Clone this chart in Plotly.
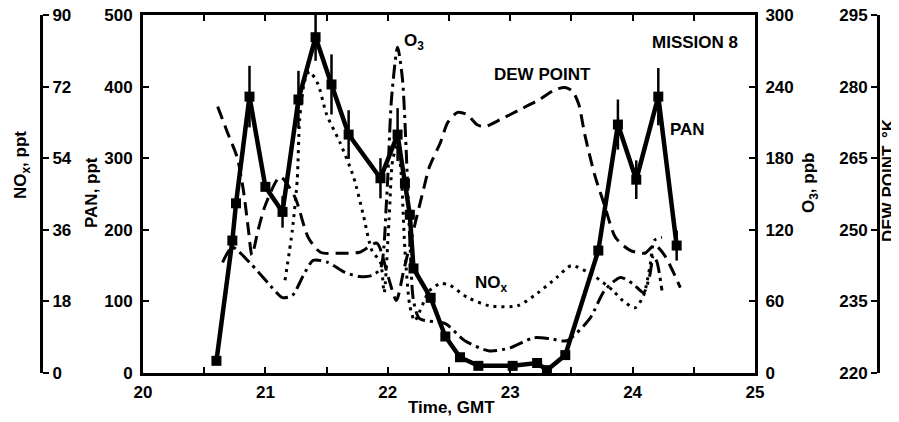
import plotly.graph_objects as go

# ---------------- data ----------------
pan_t = [20.60, 20.73, 20.76, 20.87, 21.00, 21.14, 21.27, 21.41, 21.54, 21.68, 21.94, 22.08, 22.14,
         22.18, 22.21, 22.35, 22.47, 22.59, 22.74, 23.02, 23.22, 23.30, 23.45, 23.72, 23.88, 24.03,
         24.21, 24.36]
pan_v = [17, 185, 237, 386, 260, 225, 382, 469, 403, 333, 272, 333, 265,
         221, 146, 105, 51, 22, 10, 10, 14, 4, 25, 171, 347, 270,
         386, 178]
pan_err = [0, 0, 0, 43, 0, 22, 40, 33, 42, 34, 28, 37, 0,
           0, 0, 0, 0, 0, 0, 0, 0, 0, 0, 0, 35, 27,
           40, 21]

o3_t = [20.65, 20.73, 20.87, 21.04, 21.14, 21.22, 21.31, 21.39, 21.51, 21.65, 21.77, 21.87, 21.94,
        21.99, 22.03, 22.08, 22.12, 22.15, 22.18, 22.21, 22.26, 22.47, 22.63, 22.83, 23.00, 23.19,
        23.33, 23.46, 23.65, 23.77, 23.90, 24.00, 24.09, 24.14, 24.17, 24.20, 24.24]
o3_v = [92.7, 105.3, 92.7, 73.3, 63.2, 64.9, 81.7, 94.4, 92.7, 84.3, 80.9, 81.7, 87.6,
        144.9, 229.2, 273.0, 246.1, 187.1, 111.2, 60.7, 45.5, 41.3, 27.0, 18.5, 21.1, 29.5,
        28.7, 27.0, 45.5, 69.1, 80.1, 75.0, 67.4, 81.7, 98.6, 92.7, 69.1]

nox_t = [21.16, 21.22, 21.26, 21.28, 21.32, 21.36, 21.43, 21.50, 21.61, 21.72, 21.80, 21.87, 21.94,
         21.97, 22.01, 22.04, 22.08, 22.11, 22.14, 22.18, 22.22, 22.28, 22.34, 22.43, 22.51, 22.65,
         22.83, 23.06, 23.22, 23.38, 23.50, 23.68, 23.84, 23.92, 24.02, 24.09, 24.14, 24.18, 24.24]
nox_v = [23.3, 35.9, 48.5, 63.7, 73.3, 75.8, 72.6, 65.0, 57.9, 49.3, 39.7, 30.8, 27.8,
         20.2, 38.4, 53.6, 57.4, 49.8, 30.8, 16.9, 13.1, 16.9, 20.7, 22.5, 22.0, 19.0,
         16.9, 16.9, 20.0, 24.0, 27.0, 24.5, 20.7, 18.2, 16.4, 19.5, 26.5, 33.4, 34.1]

dew_t = [20.61, 20.69, 20.77, 20.82, 20.86, 20.89, 20.94, 21.00, 21.12, 21.24, 21.35, 21.45, 21.61,
         21.77, 21.91, 22.00, 22.07, 22.13, 22.20, 22.29, 22.34, 22.43, 22.49, 22.57, 22.65, 22.73,
         22.79, 22.92, 23.08, 23.24, 23.37, 23.45, 23.51, 23.56, 23.61, 23.69, 23.77, 23.86, 23.98,
         24.10, 24.18, 24.26, 24.39]
dew_v = [275.8, 270.4, 265.1, 258.3, 250.3, 244.7, 249.9, 255.2, 261.1, 256.9, 248.4, 245.3, 245.1,
         245.3, 247.2, 240.4, 235.2, 241.5, 248.9, 258.3, 263.2, 268.3, 272.5, 274.6, 274.1, 272.0,
         271.6, 273.1, 275.2, 277.3, 279.4, 279.8, 279.0, 276.3, 269.9, 261.5, 255.2, 248.4, 245.7,
         245.1, 246.8, 244.7, 237.9]

pan_ticks = [0, 100, 200, 300, 400, 500]
o3_ticks = [0, 60, 120, 180, 240, 300]
nox_ticks = [0, 18, 36, 54, 72, 90]
dew_ticks = [220, 235, 250, 265, 280, 295]

# ---------------- figure ----------------
OFF = 8                      # page body margin
W, H = 899 - OFF, 422 - OFF  # figure fits the window exactly
FONT = "Liberation Sans, Arial, sans-serif"
tf = dict(family=FONT, size=17, color="black", weight="bold")


def px2x(px):
    return (px - OFF) / W


def py2y(py):
    return 1 - (py - OFF) / H


fig = go.Figure()

fig.add_trace(go.Scatter(x=dew_t, y=dew_v, yaxis="y4", mode="lines",
                         line=dict(color="black", width=3, dash="13px,7px", shape="spline", smoothing=0.7),
                         showlegend=False, hoverinfo="skip"))
fig.add_trace(go.Scatter(x=nox_t, y=nox_v, yaxis="y3", mode="lines",
                         line=dict(color="black", width=3, dash="3px,5px", shape="spline", smoothing=0.7),
                         showlegend=False, hoverinfo="skip"))
fig.add_trace(go.Scatter(x=o3_t, y=o3_v, yaxis="y2", mode="lines",
                         line=dict(color="black", width=3, dash="14px,5px,3px,5px", shape="spline", smoothing=0.7),
                         showlegend=False, hoverinfo="skip"))
fig.add_trace(go.Scatter(x=pan_t, y=pan_v, yaxis="y", mode="lines+markers",
                         line=dict(color="black", width=4.5),
                         marker=dict(symbol="square", size=10, color="black"),
                         error_y=dict(type="data", array=pan_err, visible=True, thickness=2.5, width=0, color="black"),
                         showlegend=False, hoverinfo="skip"))

x0, x1 = px2x(143), px2x(755)
y0, y1 = py2y(373), py2y(15)

common = dict(tickwidth=2, tickcolor="black", showline=True, linewidth=3, linecolor="black",
              showgrid=False, zeroline=False, tickfont=tf, automargin=False, ticklabeloverflow="allow")

fig.update_layout(
    template="none",
    width=W, height=H,
    margin=dict(l=0, r=0, t=0, b=0),
    paper_bgcolor="white", plot_bgcolor="white",
    font=dict(family=FONT, color="black"),
    showlegend=False,
    xaxis=dict(domain=[x0, x1], range=[20, 25], dtick=1, tick0=20,
               ticks="inside", ticklen=6,
               minor=dict(dtick=0.5, tick0=20, ticks="inside", ticklen=6, tickwidth=2, tickcolor="black",
                          showgrid=False),
               mirror="allticks", ticklabelstandoff=2, **common),
    yaxis=dict(domain=[y0, y1], range=[0, 500], tickvals=pan_ticks,
               ticks="inside", ticklen=6, ticklabelstandoff=4, **common),
    yaxis2=dict(overlaying="y", side="right", anchor="x", range=[0, 300], tickvals=o3_ticks,
                ticks="inside", ticklen=6, ticklabelstandoff=4, **common),
    yaxis3=dict(overlaying="y", side="right", anchor="free", position=px2x(41), range=[0, 90], tickvals=nox_ticks,
                ticks="outside", ticklen=6, ticklabelstandoff=0, **common),
    yaxis4=dict(overlaying="y", side="left", anchor="free", position=px2x(878), range=[220, 295], tickvals=dew_ticks,
                ticks="outside", ticklen=6, ticklabelstandoff=0, **common),
)

af = dict(family=FONT, size=17, color="black", weight="bold")


def pann(text, px, py, angle=0):
    fig.add_annotation(text=text, x=px2x(px), y=py2y(py), xref="paper", yref="paper",
                       showarrow=False, textangle=angle, font=af, xanchor="center", yanchor="middle")


# axis titles
pann("NO<sub>x</sub>, ppt", 22, 165, -90)
pann("PAN, ppt", 91, 193, -90)
pann("O<sub>3</sub>, ppb", 810, 183, -90)
pann("DEW POINT, °K", 888, 180, -90)
pann("Time, GMT", 451, 407)


# in-plot labels
def dann(text, x, y):
    fig.add_annotation(text=text, x=x, y=y, xref="x", yref="y", showarrow=False,
                       font=af, xanchor="center", yanchor="middle")


dann("O<sub>3</sub>", 22.21, 462)
dann("DEW POINT", 23.26, 417)
dann("MISSION 8", 24.51, 462)
dann("PAN", 24.45, 340)
dann("NO<sub>x</sub>", 22.85, 124)

fig.write_html("out.html")
